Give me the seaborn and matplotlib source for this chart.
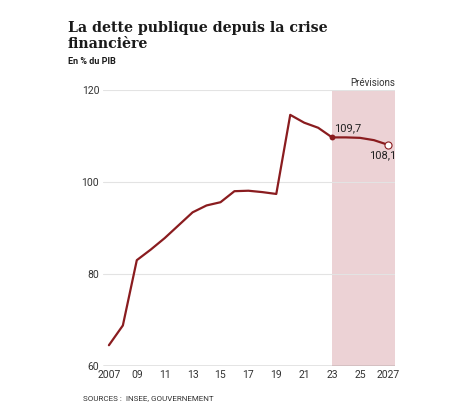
import numpy as np
import pandas as pd
import matplotlib
matplotlib.use("Agg")
import matplotlib.pyplot as plt
import seaborn as sns

# dette publique, en % du PIB (2024-2027 = prévisions)
years = [2007, 2008, 2009, 2010, 2011, 2012, 2013, 2014, 2015, 2016, 2017,
         2018, 2019, 2020, 2021, 2022, 2023, 2024, 2025, 2026, 2027]
debt = [64.5, 68.8, 83.0, 85.3, 87.8, 90.6, 93.4, 94.9, 95.6, 98.0, 98.1,
        97.8, 97.4, 114.6, 112.9, 111.8, 109.7, 109.7, 109.6, 109.1, 108.1]
xtick_pos = [2007, 2009, 2011, 2013, 2015, 2017, 2019, 2021, 2023, 2025, 2027]
xtick_labels = ["2007", "09", "11", "13", "15", "17", "19", "21", "23", "25", "2027"]
ytick_pos = [60, 80, 100, 120]
forecast_start, forecast_end = 2023, 2027.5

df = pd.DataFrame({"annee": years, "dette": debt})

sns.set_style("white")
plt.rcParams["font.family"] = ["Roboto", "DejaVu Sans"]

line_color = "#8a1c1f"
text_color = "#333333"

fig = plt.figure(figsize=(4.74, 4.13), dpi=100)
ax = fig.add_axes([0.218, 0.114, 0.615, 0.668])

ax.axvspan(forecast_start, forecast_end, color="#ecd2d5", zorder=0, lw=0)
for y in ytick_pos[1:]:
    ax.axhline(y, color="#e3e3e3", lw=0.8, zorder=1)
ax.axhline(60, color="#777777", lw=1.0, zorder=2)

sns.lineplot(data=df, x="annee", y="dette", ax=ax, color=line_color, lw=1.6, zorder=3)

i23 = years.index(2023)
ax.scatter([years[i23]], [debt[i23]], s=18, color=line_color, zorder=4, lw=0)
ax.scatter([years[-1]], [debt[-1]], s=26, facecolor="white", edgecolor=line_color,
           lw=0.8, zorder=4)

ax.text(years[i23] + 0.15, debt[i23] + 2.0, f"{debt[i23]:.1f}".replace(".", ","),
        fontsize=8, color="#222222", ha="left", va="center")
ax.text(years[-1] - 0.4, debt[-1] - 2.2, f"{debt[-1]:.1f}".replace(".", ","),
        fontsize=8, color="#222222", ha="center", va="center")
ax.text(forecast_end, 121.5, "Prévisions", fontsize=7,
        color=text_color, ha="right", va="center")

ax.set_xlim(2006.6, forecast_end)
ax.set_ylim(60, 120)
ax.set_xticks(xtick_pos)
ax.set_xticklabels(xtick_labels)
ax.set_yticks(ytick_pos)
ax.tick_params(axis="both", length=0, labelsize=7.5, colors=text_color)
ax.tick_params(axis="x", pad=3)
ax.tick_params(axis="y", pad=3)
ax.set_xlabel("")
ax.set_ylabel("")
sns.despine(ax=ax, left=True, bottom=True)

title_kw = dict(fontsize=10.2, fontweight="bold", family=["DejaVu Serif"],
                color="#1a1a1a", ha="left", va="baseline")
fig.text(0.143, 1 - 31.7 / 413, "La dette publique depuis la crise", **title_kw)
fig.text(0.143, 1 - 47.5 / 413, "financière", **title_kw)
fig.text(0.143, 0.85, "En % du PIB", fontsize=6.5, fontweight="bold",
         color="#1a1a1a", ha="left", va="center")
fig.text(0.175, 0.036, "SOURCES :  INSEE, GOUVERNEMENT", fontsize=5.8,
         color=text_color, ha="left", va="center")

fig.savefig("out.png", dpi=100, facecolor="white")
